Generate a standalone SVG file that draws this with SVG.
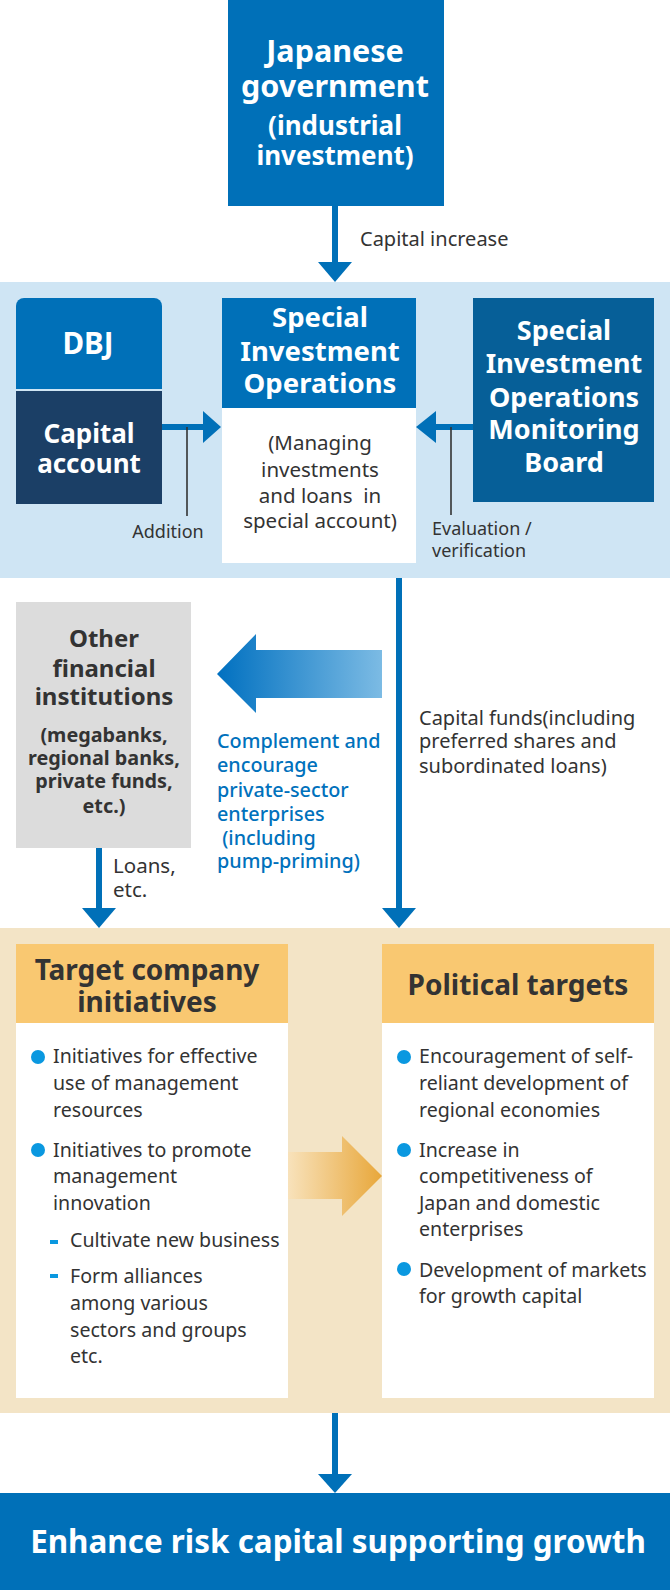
<svg xmlns="http://www.w3.org/2000/svg" width="670" height="1590" viewBox="0 0 670 1590">
<style>
text{font-family:"Noto Sans","Open Sans",sans-serif;}
.wb{fill:#fff;font-weight:700;text-anchor:middle;}
.dk{fill:#333;}
.c{text-anchor:middle;}
.blue{fill:#0071bc;font-weight:500;}
.hd{fill:#333;font-weight:700;font-size:28px;text-anchor:middle;}
.li{fill:#333;font-size:19.6px;}
.arr{fill:#0070b8;}
.ln{stroke:#0070b8;stroke-width:6;fill:none;}
.thin{stroke:#333;stroke-width:1.6;fill:none;}
.dot{fill:#0a98e0;}
</style>
<defs>
<linearGradient id="gBlue" x1="217" y1="0" x2="382" y2="0" gradientUnits="userSpaceOnUse">
<stop offset="0" stop-color="#0070c0"/><stop offset="1" stop-color="#7cbbe4"/>
</linearGradient>
<linearGradient id="gGold" x1="288" y1="0" x2="382" y2="0" gradientUnits="userSpaceOnUse">
<stop offset="0" stop-color="#f8e2bb"/><stop offset="1" stop-color="#e8a73a"/>
</linearGradient>
</defs>

<!-- bands -->
<rect x="0" y="282" width="670" height="296" fill="#cfe5f4"/>
<rect x="0" y="928" width="670" height="485" fill="#f3e4c6"/>

<g id="connectors">
<line class="ln" x1="335" y1="206" x2="335" y2="264"/>
<polygon class="arr" points="318,262 352,262 335,282"/>
<line class="ln" x1="162" y1="427" x2="205" y2="427"/>
<polygon class="arr" points="203,411 221,427 203,443"/>
<line class="thin" x1="187" y1="427" x2="187" y2="516"/>
<line class="ln" x1="434" y1="427" x2="473" y2="427"/>
<polygon class="arr" points="436,411 416,427 436,443"/>
<line class="thin" x1="451" y1="427" x2="451" y2="515"/>
<line class="ln" x1="399" y1="578" x2="399" y2="910"/>
<polygon class="arr" points="382,908 416,908 399,928"/>
<line class="ln" x1="99" y1="848" x2="99" y2="910"/>
<polygon class="arr" points="82,908 116,908 99,928"/>
<polygon fill="url(#gBlue)" points="217,674 256,634 256,650 382,650 382,698 256,698 256,713"/>
<polygon fill="url(#gGold)" points="288,1152 342,1152 342,1136 382,1176 342,1216 342,1199 288,1199"/>
<line class="ln" x1="335" y1="1413" x2="335" y2="1476"/>
<polygon class="arr" points="318,1474 352,1474 335,1493"/>
<text class="dk" x="360" y="246" font-size="20">Capital increase</text>
<text class="dk c" x="168" y="538" font-size="18">Addition</text>
<text class="dk" font-size="18"><tspan x="432" y="535">Evaluation /</tspan><tspan x="432" y="557">verification</tspan></text>
<text class="dk" font-size="20"><tspan x="419" y="725">Capital funds(including</tspan><tspan x="419" y="748">preferred shares and</tspan><tspan x="419" y="773">subordinated loans)</tspan></text>
<text class="blue" font-size="19.8" xml:space="preserve"><tspan x="217" y="748">Complement and</tspan><tspan x="217" y="772">encourage</tspan><tspan x="217" y="797">private-sector</tspan><tspan x="217" y="821">enterprises</tspan><tspan x="217" y="845"> (including</tspan><tspan x="217" y="868">pump-priming)</tspan></text>
<text class="dk" font-size="20.5"><tspan x="113" y="873">Loans,</tspan><tspan x="113" y="897">etc.</tspan></text>
</g>

<g id="gov">
<rect x="228" y="0" width="216" height="206" fill="#0070b8"/>
<text class="wb" font-size="30.5"><tspan x="335" y="62">Japanese</tspan><tspan x="335" y="97">government</tspan><tspan x="335" y="135" font-size="26">(industrial</tspan><tspan x="335" y="165" font-size="26">investment)</tspan></text>
</g>

<g id="dbj">
<path d="M16,306 a8,8 0 0 1 8,-8 h130 a8,8 0 0 1 8,8 V389 H16 Z" fill="#0070b8"/>
<rect x="16" y="391" width="146" height="113" fill="#1b3f66"/>
<text class="wb" x="88" y="354" font-size="29.5">DBJ</text>
<text class="wb" font-size="26"><tspan x="89" y="443">Capital</tspan><tspan x="89" y="473">account</tspan></text>
</g>

<g id="sio">
<rect x="222" y="298" width="194" height="110" fill="#0070b8"/>
<rect x="222" y="408" width="194" height="155" fill="#fff"/>
<text class="wb" font-size="27.5"><tspan x="320" y="327">Special</tspan><tspan x="320" y="361">Investment</tspan><tspan x="320" y="393">Operations</tspan></text>
<text class="dk c" font-size="20.5" xml:space="preserve"><tspan x="320" y="450">(Managing</tspan><tspan x="320" y="477">investments</tspan><tspan x="320" y="503">and loans  in</tspan><tspan x="320" y="528">special account)</tspan></text>
</g>

<g id="board">
<rect x="473" y="298" width="181" height="204" fill="#065f98"/>
<text class="wb" font-size="27"><tspan x="564" y="340">Special</tspan><tspan x="564" y="373">Investment</tspan><tspan x="564" y="407">Operations</tspan><tspan x="564" y="439">Monitoring</tspan><tspan x="564" y="472">Board</tspan></text>
</g>

<g id="other">
<rect x="16" y="602" width="175" height="246" fill="#dcdcdc"/>
<text class="dk c" font-size="24" font-weight="700"><tspan x="104" y="647">Other</tspan><tspan x="104" y="677">financial</tspan><tspan x="104" y="705">institutions</tspan></text>
<text class="dk c" font-size="19.8" font-weight="700"><tspan x="104" y="742">(megabanks,</tspan><tspan x="104" y="765">regional banks,</tspan><tspan x="104" y="788">private funds,</tspan><tspan x="104" y="813">etc.)</tspan></text>
</g>

<g id="target">
<rect x="16" y="944" width="272" height="79" fill="#f9c871"/>
<rect x="16" y="1023" width="272" height="375" fill="#fff"/>
<text class="hd"><tspan x="147" y="980">Target company</tspan><tspan x="147" y="1012">initiatives</tspan></text>
<circle class="dot" cx="38" cy="1057" r="7"/>
<text class="li"><tspan x="53" y="1063">Initiatives for effective</tspan><tspan x="53" y="1090">use of management</tspan><tspan x="53" y="1117">resources</tspan></text>
<circle class="dot" cx="38" cy="1150" r="7"/>
<text class="li"><tspan x="53" y="1157">Initiatives to promote</tspan><tspan x="53" y="1183">management</tspan><tspan x="53" y="1210">innovation</tspan></text>
<rect class="dot" x="50" y="1240" width="8" height="4"/>
<text class="li" x="70" y="1247">Cultivate new business</text>
<rect class="dot" x="50" y="1274" width="8" height="4"/>
<text class="li"><tspan x="70" y="1283">Form alliances</tspan><tspan x="70" y="1310">among various</tspan><tspan x="70" y="1337">sectors and groups</tspan><tspan x="70" y="1363">etc.</tspan></text>
</g>

<g id="political">
<rect x="382" y="944" width="272" height="79" fill="#f9c871"/>
<rect x="382" y="1023" width="272" height="375" fill="#fff"/>
<text class="hd" x="518" y="995">Political targets</text>
<circle class="dot" cx="404" cy="1057" r="7"/>
<text class="li"><tspan x="419" y="1063">Encouragement of self-</tspan><tspan x="419" y="1090">reliant development of</tspan><tspan x="419" y="1117">regional economies</tspan></text>
<circle class="dot" cx="404" cy="1150" r="7"/>
<text class="li"><tspan x="419" y="1157">Increase in</tspan><tspan x="419" y="1183">competitiveness of</tspan><tspan x="419" y="1210">Japan and domestic</tspan><tspan x="419" y="1236">enterprises</tspan></text>
<circle class="dot" cx="404" cy="1269" r="7"/>
<text class="li"><tspan x="419" y="1277">Development of markets</tspan><tspan x="419" y="1303">for growth capital</tspan></text>
</g>

<g id="result">
<rect x="0" y="1493" width="670" height="97" fill="#0070b8"/>
<text class="wb" x="338" y="1553" font-size="31.4">Enhance risk capital supporting growth</text>
</g>
</svg>
